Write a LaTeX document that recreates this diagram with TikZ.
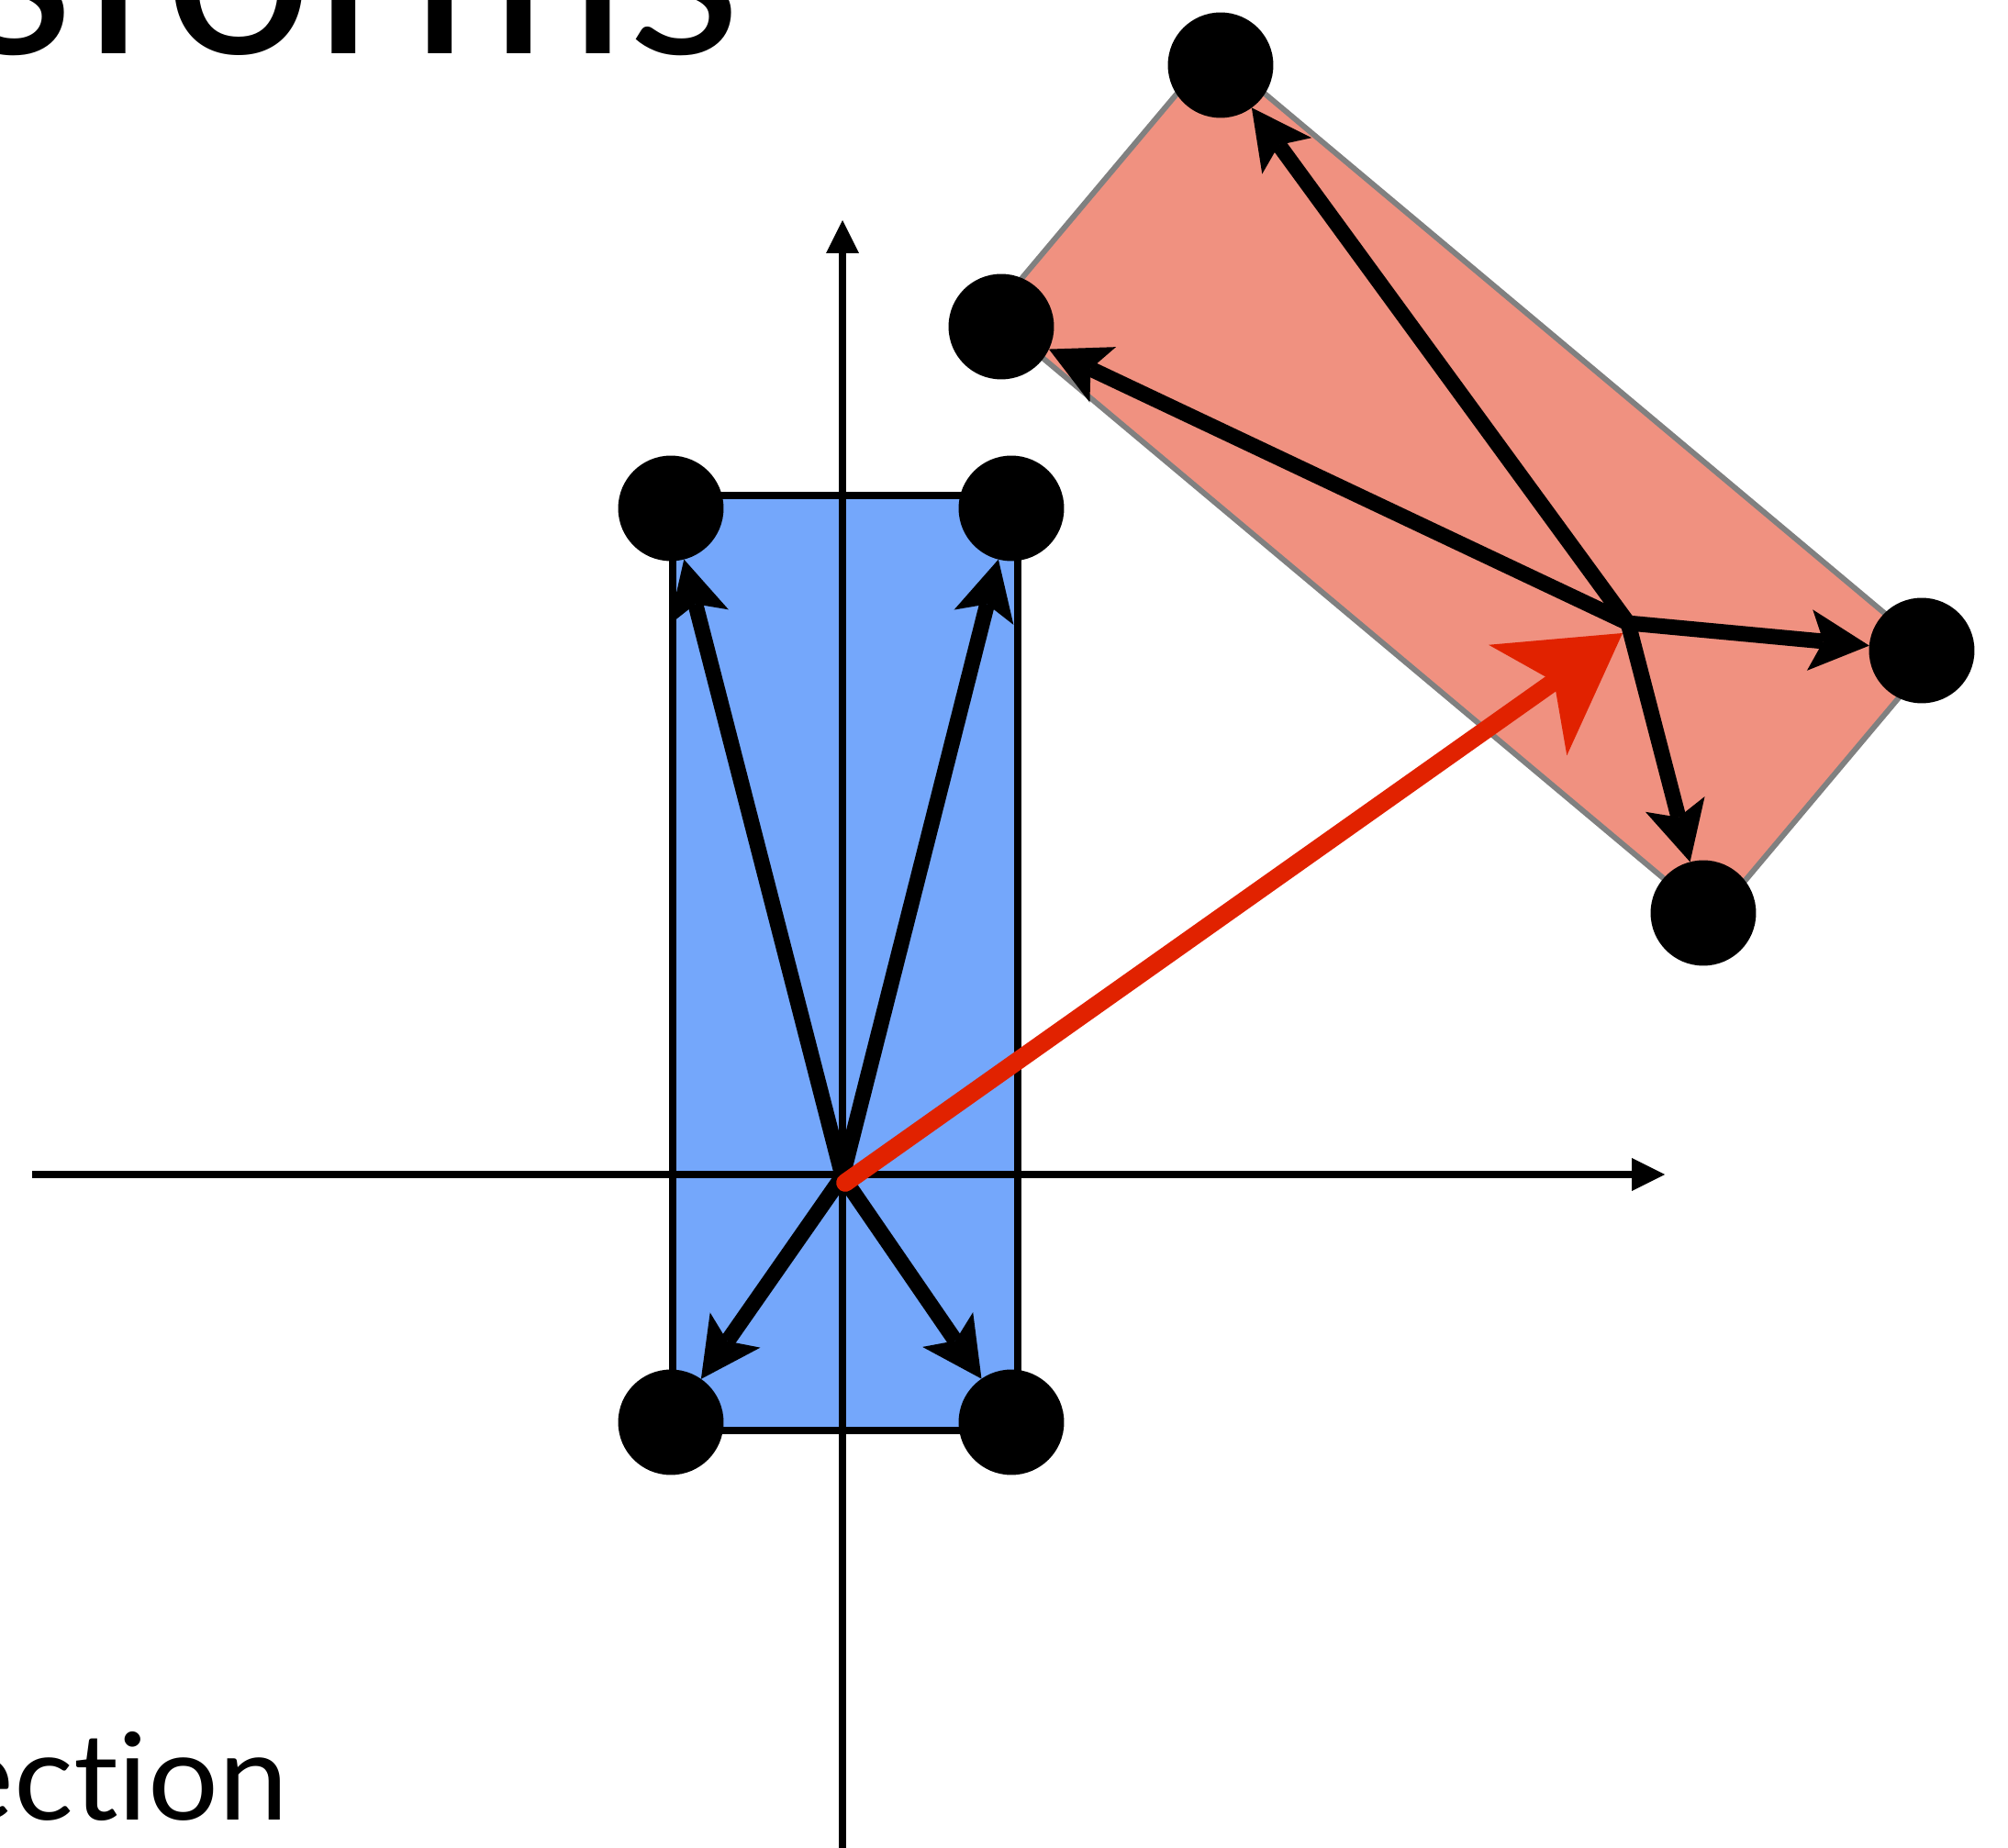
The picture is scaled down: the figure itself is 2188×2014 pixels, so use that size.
\documentclass[tikz,border=0pt]{standalone}
\usepackage{fontspec}
\setmainfont{Lato}[Ligatures={NoCommon}]
\usetikzlibrary{arrows.meta}
\definecolor{bluefill}{RGB}{116,167,251}
\definecolor{salmon}{RGB}{240,145,128}
\definecolor{redarrow}{RGB}{225,34,0}
\definecolor{edgegray}{RGB}{128,128,128}
\begin{document}
\begin{tikzpicture}[x=0.1mm,y=-0.1mm,
  axis/.style={line width=2.28pt, -{Triangle[length=10.2pt,width=10.2pt,line width=0pt]}},
  vec/.style={line width=4.8pt, -{Stealth[length=18.5pt,width=19pt,inset=4.2pt,line width=0pt]}},
  redvec/.style={draw=redarrow, line width=5.6pt, line cap=round, -{Stealth[length=36pt,width=42pt,inset=10pt,line width=0pt]}},
  dot/.style={circle, fill=black, minimum size=32.7pt, inner sep=0pt, outer sep=0pt},
  bluebox/.style={fill=bluefill, draw=black, line width=2.28pt},
  redbox/.style={fill=salmon, draw=edgegray, line width=1.7pt, line join=miter},
  bigtext/.style={anchor=base east, inner sep=0pt, outer sep=0pt},
]
\useasboundingbox (0,0) rectangle (2188,2014);

% shapes
\draw[bluebox] (733,540) rectangle (1109,1559);
\draw[redbox] (1080,343) -- (1322,55) -- (2108,714) -- (1866,1002) -- cycle;

% axes
\coordinate (xs) at (35,1280);
\coordinate (xe) at (1814,1280);
\coordinate (ys) at (918,2030);
\coordinate (ye) at (918,240);
\draw[axis] (xs) -- (xe);
\draw[axis] (ys) -- (ye);

% points
\coordinate (O) at (918,1282);
\coordinate (O2) at (1774,679);
\coordinate (rs) at (921,1289);
\coordinate (rtip) at (1768,690);

\node[dot] (bTL) at (731,554) {};
\node[dot] (bTR) at (1102,554) {};
\node[dot] (bBL) at (731,1550) {};
\node[dot] (bBR) at (1102,1550) {};
\node[dot] (rL) at (1091,356) {};
\node[dot] (rT) at (1330,71) {};
\node[dot] (rR) at (2094,709) {};
\node[dot] (rB) at (1856,995) {};

% vectors
\draw[vec] (O) -- (bTL);
\draw[vec] (O) -- (bTR);
\draw[vec] (O) -- (bBL);
\draw[vec] (O) -- (bBR);
\draw[redvec] (rs) -- (rtip);
\draw[vec] (O2) -- (rL);
\draw[vec] (O2) -- (rT);
\draw[vec] (O2) -- (rR);
\draw[vec] (O2) -- (rB);

% texts
\node[bigtext, font=\fontsize{82}{86}\selectfont] (title) at (808,59) {sforms};
\node[bigtext, xscale=1.03, font=\fontsize{37.5}{40}\selectfont] (sub) at (314,1983) {ection};
\end{tikzpicture}
\end{document}
